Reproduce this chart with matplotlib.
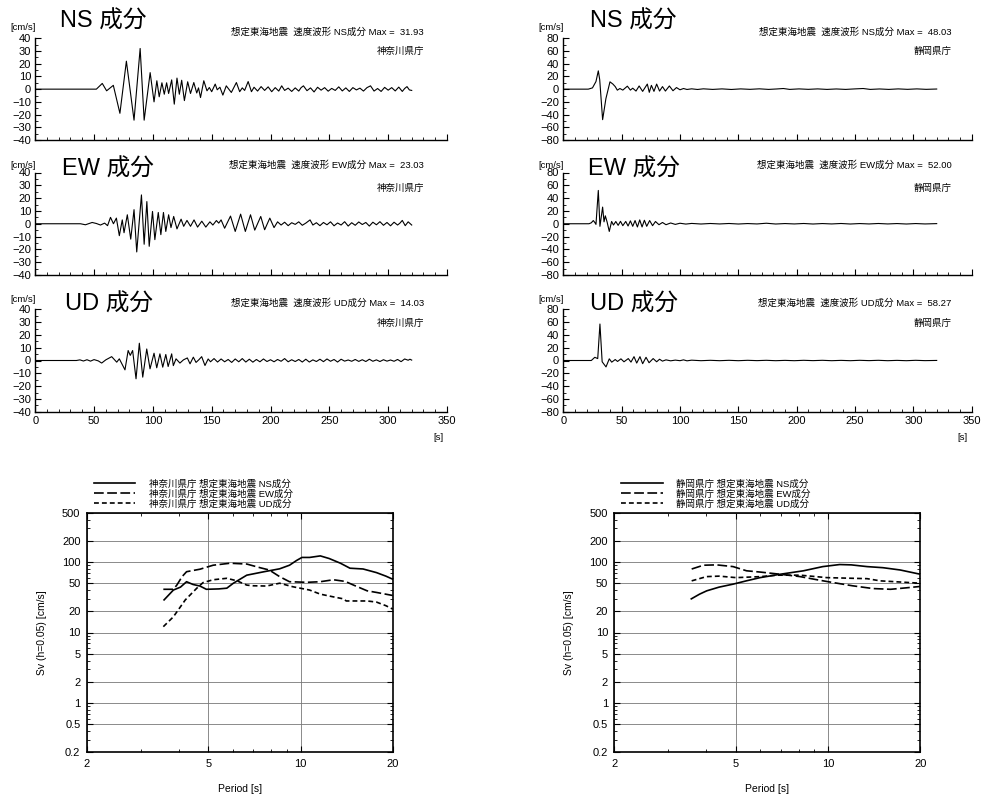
import matplotlib
matplotlib.use("Agg")
import matplotlib.pyplot as plt
from matplotlib.lines import Line2D
from matplotlib.ticker import MultipleLocator, FixedLocator, NullFormatter

plt.rcParams['font.family'] = ['Liberation Sans', 'Noto Sans CJK JP']
plt.rcParams['lines.scale_dashes'] = False

W, H = 981, 801

# ---- velocity waveforms: (time [s], velocity [cm/s]) ----
kana_ns = [(0, 0), (52, 0), (57, 4.5), (60.7, -1.3), (66.4, 3), (72, -19), (77.5, 22), (84, -24.4),
           (89.2, 32), (92.6, -24.4), (97.7, 13), (101, -10), (103.4, 6.6), (105.4, -6), (107.7, 5),
           (109.7, -4), (111.7, 5), (113.4, -3.4), (116, 7.3), (118.2, -11.8), (120.5, 8.7), (122.5, -4),
           (124.5, 7), (126.8, -9), (129.6, 5.8), (132, -3.4), (134.8, 5.2), (137.3, -3), (138.8, 1),
           (140.5, -6.6), (143.3, 6.6), (146, -1.3), (148, 1.3), (150, -2), (153, 4), (154.7, -0.5),
           (157, 1.5), (159.5, -4.7), (162.4, 2.6), (166.7, -2.6), (171, 5.2), (173.8, -2), (176, 1),
           (178, -1), (181, 6), (183.8, -2), (186, 1.5), (189, -1.5), (192, 2), (195, -1), (198, 1.8),
           (201, -2), (204, 1.2), (207, -1.5), (209.5, 2.6), (212, -1), (215, 0.8), (218, -1.8), (221, 1),
           (224, -1.5), (226, 1.2), (228, 2.6), (231, -1.2), (234, 1), (237, -2.2), (240, 1.5), (243, -0.8),
           (246, 1.2), (249, -1.6), (252, 0.6), (255, -1), (258, 1.8), (261, -1.4), (264, 1), (267, -1.8),
           (270, 1.2), (273, -0.6), (276, 0.8), (279, -1.5), (282, 1.2), (285, 2.6), (288, -1.5), (291, 0.5),
           (294, -1.8), (297, 1.4), (300, -0.8), (303, 1.2), (306, -1.4), (309, 1.6), (312, -1.8), (314, 0.5),
           (316, 2), (318, -0.6), (320, -1)]

kana_ew = [(0, 0), (38.5, 0), (42.7, -0.8), (48.4, 1), (52, 0.2), (55.5, -1), (59, 0.5), (61.5, -1.5),
           (64, 5), (66.5, 0), (69, 4.4), (71.5, -9.3), (74, 3), (75.5, -7), (78.3, 7), (81.2, -12),
           (84, 11), (86.3, -22), (90.3, 22.5), (92.6, -16), (94.9, 17.3), (96.9, -17.6), (99.7, 9.6),
           (101.7, -12.4), (104.6, 8.8), (106.8, -8.5), (109, 8.8), (111, -6), (113.4, 7), (115.4, -3),
           (117.7, 5.7), (120.5, -4), (124, 3.6), (126.2, -2), (129, 2.6), (132, -2), (135, 3), (138, -2.6),
           (141.6, 2), (145, -2.6), (148.5, 1.5), (151, -1), (154, 2.5), (156, 0.5), (158, 3), (161, -3.5),
           (166, 6), (170, -6), (174.6, 7.5), (178.6, -6), (183, 7), (186.6, -5), (191.7, 5.7), (195, -4.7),
           (199.4, 4.4), (203, -3), (206, 1.5), (209, -1), (212, 1.2), (215, -1.5), (218, 0.8), (221, -0.5),
           (224, 1.5), (227, -1.2), (230, 0.5), (233.6, 3), (236, -1), (239, 0.8), (242, -1.5), (245, 1),
           (248, -0.8), (251, 1.5), (254, -1.6), (257, 0.6), (260, -1), (263, 1.6), (266, -1.8), (269, 0.8),
           (272, -1.2), (275, 1.4), (278, -0.6), (281, 1), (284, -1.8), (287, 1.2), (290, -0.8), (293, 1.6),
           (296, -1.2), (299, 1), (302, -1.6), (305, 1.2), (308, -1), (310, 0.5), (312, 2.6), (314.5, -1.5),
           (317, 1.5), (320, -1)]

kana_ud = [(0, 0), (35, 0), (38, 0.5), (41, -0.4), (44, 0.6), (47, -0.5), (50, 0.7), (53.6, -0.3),
           (56.5, -2), (60, 0.5), (65, 3), (69.3, -1.3), (71.5, 1.3), (76.3, -7.3), (79, 7.8), (80.8, 4),
           (82.8, 7.8), (85.7, -14.3), (88.5, 13.5), (91.4, -13), (94.8, 9), (97.6, -6.5), (101, 5.7),
           (103.3, -5.7), (106, 5.2), (108.4, -5.2), (111, 4.7), (113, -4.7), (116, 5.2), (117.4, -4),
           (119.7, 1.3), (123, -2), (126, 0.5), (129.3, 2), (131.6, -2.6), (134.4, 2.6), (136.7, -1.5),
           (139, 0.5), (141.5, 3), (144.3, -3.9), (147, 1.2), (149, -1), (152, 1.5), (155, -1.2), (158, 1.2),
           (161, -1), (164, 0.8), (167, -1.5), (170, 1.2), (173, -1), (176, 1.5), (179, -1.2), (182, 1),
           (185, -1.3), (188, 0.8), (191, -1), (194, 1.2), (197, -0.8), (200, 0.6), (203, -1), (206, 0.8),
           (209, -0.6), (212, 1.5), (215, -1), (218, 0.6), (221, -0.8), (224, 0.8), (227, -1.2), (230, 1),
           (233, -1.2), (236, 0.5), (239, -0.8), (242, 1), (245, -0.9), (248, 1.2), (251, -0.6), (254, 0.8),
           (257, -1.2), (260, 1), (263, -0.5), (266, 0.4), (269, -0.6), (272, 0.8), (275, -0.7), (278, 0.6),
           (281, -0.8), (284, 1), (287, -0.6), (290, 0.5), (293, -0.8), (296, 0.6), (299, -0.5), (302, 0.4),
           (305, -0.6), (308, 0.8), (311, -0.9), (314, 1.2), (317, 0.2), (318.5, 1), (320, 0.3)]

shiz_ns = [(0, 0), (21.4, 0), (25, 2), (28, 12), (30, 28.8), (31.2, 15), (33.7, -48), (36.5, -15),
           (40, 11.5), (42.5, 8), (44.5, 4), (46.3, -1.6), (48.5, 1), (51, -1.5), (54.9, 4.7), (57.5, -1.5),
           (59.5, 1.5), (62.3, -3), (65, 5), (68, -3.5), (72, 8), (73.7, -5), (75.5, 6), (77.7, -3.5),
           (80, 8), (82.5, -3), (85, 4), (87.5, -3), (90.9, 5), (94, -2.5), (97, 2.5), (100, -1), (103, 1),
           (106, -0.5), (110, 0.5), (115, -0.5), (120, 0.5), (128, -0.4), (136, 0.4), (144, -0.5),
           (152, 0.4), (160, -0.3), (168, 0.5), (176, -0.4), (183, 0.3), (188.6, 1), (194, -0.4),
           (202, 0.4), (210, -0.3), (218, 0.4), (226, -0.4), (234, 0.3), (242, -0.4), (250, 0.4),
           (257, 1), (263, -0.4), (271, 0.3), (279, -0.4), (287, 0.4), (295, -0.3), (303, 0.4),
           (311, -0.3), (320, 0.2)]

shiz_ew = [(0, 0), (22, 0), (24, 1.5), (25.7, 5), (27, 2), (28, -1), (30, 52), (31.4, -4), (33.7, 26),
           (34.9, 3), (36, 12.4), (37.5, 3), (39.4, -12), (41.4, 3.6), (43, -2), (45, 3.5), (47, -2.5),
           (49, 3.8), (51, -3), (53.5, 3.6), (55.5, -3.5), (57.5, 4.5), (59.5, -4), (61.5, 5), (63.5, -5),
           (65.5, 6), (67.5, -5), (69.5, 5.5), (71.5, -4), (74, 5), (76.5, -3), (79, 3.5), (82, -1.5),
           (85, 2), (88, -1.5), (92, 1.2), (96, -1), (100, 0.8), (105, -0.5), (110, 0.5), (118, -0.4),
           (126, 0.4), (134, -0.3), (142, 0.4), (150, -0.4), (158, 0.3), (166, -0.3), (174, 0.8),
           (182, -0.4), (190, 0.3), (198, -0.3), (206, 0.4), (214, -0.4), (222, 0.3), (230, -0.3),
           (238, 0.4), (246, -0.4), (254, 0.3), (262, -0.3), (270, 0.4), (278, -0.3), (286, 0.3),
           (294, -0.4), (302, 0.3), (310, -0.3), (320, 0.2)]

shiz_ud = [(0, 0), (24, 0), (27, 5), (29.5, 3), (31.4, 57), (33.3, -2), (36.6, -10), (39.4, 2.6),
           (41.5, -2.6), (44.5, 1.5), (46.5, -1.5), (49.4, 2.6), (52, -2), (55.7, 3), (58, -2.5),
           (60.6, 6), (62.9, -4), (65.7, 6), (68, -5), (70.9, 5), (73.5, -3.5), (77, 3), (80, -2),
           (82.5, 2), (85, -1), (88, 1), (92, -0.5), (96, 0.6), (100, -0.3), (103, 1), (106, -0.5),
           (110, 0.5), (118, -0.3), (126, 0.3), (134, -0.3), (142, 0.3), (150, -0.3), (158, 0.3),
           (166, -0.2), (174, 0.3), (182, -0.3), (190, 0.2), (198, -0.3), (206, 0.3), (214, -0.2),
           (222, 0.3), (230, -0.3), (238, 0.2), (246, -0.3), (254, 0.3), (262, -0.2), (270, 0.3),
           (278, -0.3), (286, 0.2), (294, -0.3), (302, 0.3), (310, -0.2), (320, 0.1)]

components = ['NS', 'EW', 'UD']
kana_max = ['31.93', '23.03', '14.03']
shiz_max = ['48.03', '52.00', '58.27']

# ---- velocity response spectra Sv (h=0.05) ----
kana_ns_p = [3.58, 3.84, 4.05, 4.24, 4.45, 4.69, 4.92, 5.4, 5.74, 6.03, 6.67, 7.6, 8.54, 9.2, 9.7, 10.1,
             10.7, 11.6, 12.4, 13.5, 14.5, 16.0, 17.7, 19.0, 20.0]
kana_ns_v = [29, 40, 44, 52.5, 48, 45.6, 41, 41.5, 42.5, 50, 65, 72.8, 80, 90, 105, 116,
             116, 122, 112, 96, 81.6, 79.6, 70.7, 63, 57]
kana_ew_p = [3.56, 3.84, 3.94, 4.1, 4.24, 4.69, 5.18, 5.88, 6.67, 7.37, 7.9, 8.54, 9.2, 10.5, 11.6,
             12.8, 14.0, 14.9, 16.5, 17.7, 20.0]
kana_ew_v = [41, 41, 47, 62, 72.8, 79, 90, 96, 93.5, 83, 77, 62, 52.5, 51.5, 52.5, 56, 53, 47, 39, 37, 33.5]
kana_ud_p = [3.56, 3.84, 4.2, 4.58, 4.8, 5.18, 5.74, 6.2, 6.67, 7.0, 7.74, 8.54, 9.4, 10.7, 11.6, 12.8,
             13.8, 14.1, 16.5, 17.7, 19.0, 20.0]
kana_ud_v = [12.1, 16.7, 29, 42.5, 51, 56, 58.7, 54, 47, 46, 45.6, 50, 44.7, 40, 35, 32, 30, 28, 28, 27, 24, 21.5]

shiz_ns_p = [3.57, 3.8, 4.01, 4.4, 4.89, 5.4, 5.99, 6.97, 8.3, 9.6, 10.9, 11.9, 13.4, 15.1, 17.2, 20.0]
shiz_ns_v = [30, 35, 39, 44, 48.5, 54, 60, 67, 75, 86, 92, 91, 86, 83, 77, 67]
shiz_ew_p = [3.58, 3.91, 4.32, 4.89, 5.41, 5.99, 6.97, 8.1, 9.4, 10.4, 12.0, 14.0, 16.0, 18.0, 20.0]
shiz_ew_v = [79.5, 90, 91, 86, 75, 72, 67, 62, 55, 51, 46, 42, 41, 43, 45]
shiz_ud_p = [3.58, 4.0, 4.4, 5.0, 6.0, 6.8, 8.1, 9.9, 11.5, 13.4, 14.8, 17.2, 20.0]
shiz_ud_v = [54, 62, 63, 60, 62, 65, 65, 60, 59, 58, 54, 52, 50]

sv_ticks = [0.2, 0.5, 1, 2, 5, 10, 20, 50, 100, 200, 500]
sv_labels = ['0.2', '0.5', '1', '2', '5', '10', '20', '50', '100', '200', '500']
period_ticks = [2, 5, 10, 20]
period_labels = ['2', '5', '10', '20']

fig = plt.figure(figsize=(W / 100, H / 100), dpi=100)


def axes_px(x0, y0, x1, y1):
    return fig.add_axes([x0 / W, 1 - y1 / H, (x1 - x0) / W, (y1 - y0) / H])


def text_px(x, y, s, **kw):
    fig.text(x / W, 1 - y / H, s, **kw)


# waveform panels
rows_y = [(38.3, 140.0), (172.5, 275.0), (309.3, 411.7)]
title_y = [21.7, 170, 305]
head_y = [31.7, 165, 303]
site_y = [51.7, 188, 323]
unit_y = [28, 165, 300]
sites = [
    dict(name='神奈川県庁', traces=[kana_ns, kana_ew, kana_ud], maxes=kana_max, x0=35.2, x1=447.0,
         lim=40, major=10, minor=5, title_x=[60, 62, 65], text_r=424, unit_x=10),
    dict(name='静岡県庁', traces=[shiz_ns, shiz_ew, shiz_ud], maxes=shiz_max, x0=563.3, x1=971.7,
         lim=80, major=20, minor=10, title_x=[590, 588, 590], text_r=951.7, unit_x=538),
]

for site in sites:
    for i, comp in enumerate(components):
        ax = axes_px(site['x0'], rows_y[i][0], site['x1'], rows_y[i][1])
        t = [p[0] for p in site['traces'][i]]
        v = [p[1] for p in site['traces'][i]]
        ax.plot(t, v, color='black', lw=0.8, solid_joinstyle='round')
        ax.set_xlim(0, 350)
        ax.set_ylim(-site['lim'], site['lim'])
        ax.spines['top'].set_visible(False)
        ax.spines['right'].set_visible(False)
        ax.spines['left'].set_linewidth(1.0)
        ax.spines['bottom'].set_linewidth(1.0)
        ax.xaxis.set_major_locator(MultipleLocator(50))
        ax.xaxis.set_minor_locator(MultipleLocator(10))
        ax.yaxis.set_major_locator(MultipleLocator(site['major']))
        ax.yaxis.set_minor_locator(MultipleLocator(site['minor']))
        ax.tick_params(which='major', direction='in', length=4, width=0.8, labelsize=8, pad=3)
        ax.tick_params(which='minor', direction='in', length=2, width=0.6)
        if i < 2:
            ax.tick_params(axis='x', labelbottom=False)
        else:
            text_px(site['x1'] - 9, 437, '[s]', fontsize=6.8, ha='center', va='center')
        text_px(site['title_x'][i], title_y[i], comp + ' 成分', fontsize=17, ha='left', va='center')
        text_px(site['text_r'], head_y[i],
                '想定東海地震  速度波形 ' + comp + '成分 Max =  ' + site['maxes'][i],
                fontsize=6.8, ha='right', va='center')
        text_px(site['text_r'], site_y[i], site['name'], fontsize=6.8, ha='right', va='center')
        text_px(site['unit_x'], unit_y[i], '[cm/s]', fontsize=6.8, ha='left', va='center')

# response spectra panels
spectra = [
    dict(name='神奈川県庁', x0=86.7, x1=392.7, label_x=41.7,
         series=[(kana_ns_p, kana_ns_v), (kana_ew_p, kana_ew_v), (kana_ud_p, kana_ud_v)]),
    dict(name='静岡県庁', x0=614.3, x1=920.3, label_x=569.3,
         series=[(shiz_ns_p, shiz_ns_v), (shiz_ew_p, shiz_ew_v), (shiz_ud_p, shiz_ud_v)]),
]
styles = [dict(linestyle='-'), dict(dashes=(7, 2.5)), dict(dashes=(3.5, 2.2))]
minor_y = [m * 10 ** e for e in range(-1, 3) for m in range(1, 10)]
minor_y = [m for m in minor_y if 0.2 <= m <= 500 and m not in sv_ticks]

for sp in spectra:
    ax = axes_px(sp['x0'], 512.7, sp['x1'], 752.3)
    ax.set_xscale('log')
    ax.set_yscale('log')
    handles = []
    for (p, v), comp, st in zip(sp['series'], components, styles):
        ax.plot(p, v, color='black', lw=1.2, **st)
        handles.append(Line2D([], [], color='black', lw=1.2, **st))
    ax.set_xlim(2, 20)
    ax.set_ylim(0.2, 500)
    ax.xaxis.set_major_locator(FixedLocator(period_ticks))
    ax.set_xticklabels(period_labels)
    ax.xaxis.set_minor_locator(FixedLocator([3, 4, 6, 7, 8, 9]))
    ax.xaxis.set_minor_formatter(NullFormatter())
    ax.yaxis.set_major_locator(FixedLocator(sv_ticks))
    ax.set_yticklabels(sv_labels)
    ax.yaxis.set_minor_locator(FixedLocator(minor_y))
    ax.yaxis.set_minor_formatter(NullFormatter())
    ax.grid(True, which='major', color='#777777', lw=0.6)
    ax.tick_params(which='major', direction='in', length=4, width=0.8, labelsize=8, pad=4.5,
                   top=True, right=True)
    ax.tick_params(which='minor', direction='in', length=2, width=0.6, top=True, right=True)
    for s in ax.spines.values():
        s.set_linewidth(1.2)
    ax.set_axisbelow(True)
    labels = [sp['name'] + ' 想定東海地震 ' + c + '成分' for c in components]
    ax.legend(handles, labels, loc='lower left', bbox_to_anchor=(0.023, 1.018), frameon=False,
              fontsize=6.8, handlelength=4.4, handletextpad=1.4, labelspacing=0.05,
              borderpad=0, borderaxespad=0)
    text_px((sp['x0'] + sp['x1']) / 2, 789, 'Period [s]', fontsize=7.5, ha='center', va='center')
    text_px(sp['label_x'], 632.5, 'Sv (h=0.05) [cm/s]', fontsize=7.5, ha='center', va='center',
            rotation=90)

fig.savefig('out.png', dpi=100, facecolor='white')
